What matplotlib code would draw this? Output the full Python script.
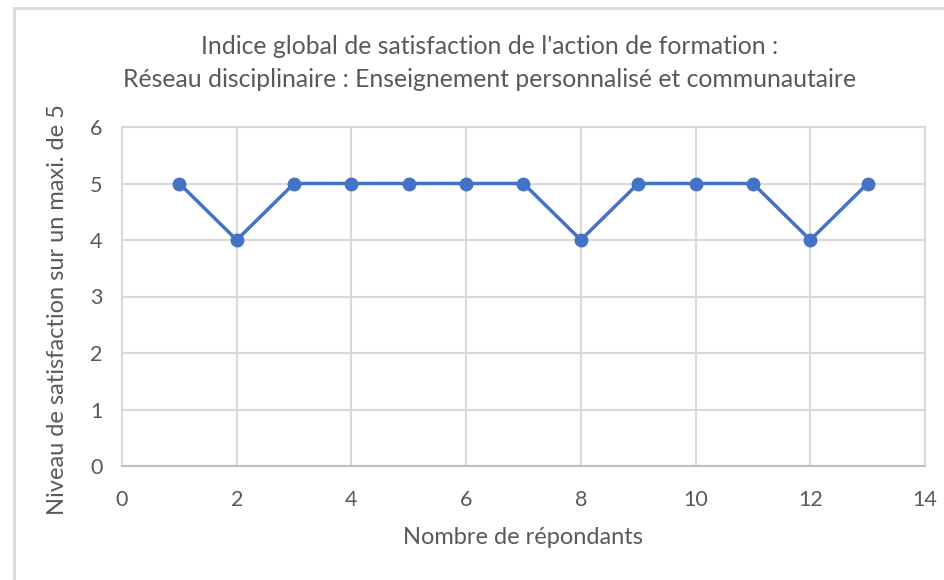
import matplotlib
matplotlib.use("Agg")
import matplotlib.pyplot as plt
from matplotlib.patches import Rectangle

# data
repondants = [1, 2, 3, 4, 5, 6, 7, 8, 9, 10, 11, 12, 13]
niveaux = [5, 4, 5, 5, 5, 5, 5, 4, 5, 5, 5, 4, 5]
x_ticks = [0, 2, 4, 6, 8, 10, 12, 14]
y_ticks = [0, 1, 2, 3, 4, 5, 6]

titre = "Indice global de satisfaction de l'action de formation :\nRéseau disciplinaire : Enseignement personnalisé et communautaire"
x_label = "Nombre de répondants"
y_label = "Niveau de satisfaction sur un maxi. de 5"

plt.rcParams['font.family'] = ['Lato', 'DejaVu Sans']
txt = '#595959'
grid_c = '#d9d9d9'
bleu = '#4472C4'

W, H = 945, 580
fig = plt.figure(figsize=(W / 100, H / 100), dpi=100)
ax = fig.add_axes([122 / W, 1 - 466 / H, (925 - 122) / W, (466 - 127) / H])

ax.plot(repondants, niveaux, color=bleu, linewidth=2.5, marker='o', markersize=9, zorder=3)

ax.set_xlim(0, 14)
ax.set_ylim(0, 6)
ax.set_xticks(x_ticks)
ax.set_yticks(y_ticks)
ax.grid(True, color=grid_c, linewidth=1.5)
ax.set_axisbelow(True)
for s in ax.spines.values():
    s.set_color(grid_c)
    s.set_linewidth(1.5)
ax.spines['bottom'].set_color('#bfbfbf')
ax.tick_params(length=0, labelsize=15.5, labelcolor=txt)
ax.tick_params(axis='x', pad=17)
ax.tick_params(axis='y', pad=14)

fig.text(523 / W, 1 - 538 / H, x_label, ha='center', va='center', fontsize=17, color=txt)
fig.text(58 / W, 1 - 310 / H, y_label, ha='center', va='center', fontsize=17,
         color=txt, rotation=90)

fig.text(490 / W, 1 - 63 / H, titre, ha='center', va='center', fontsize=17.8,
         color=txt, linespacing=1.5)

# outer chart border
fig.patches.append(Rectangle((14 / W, -0.1), 1.2, 1.1 - 8 / H, transform=fig.transFigure,
                             fill=False, edgecolor=grid_c, linewidth=2))

fig.savefig("out.png", dpi=100)
